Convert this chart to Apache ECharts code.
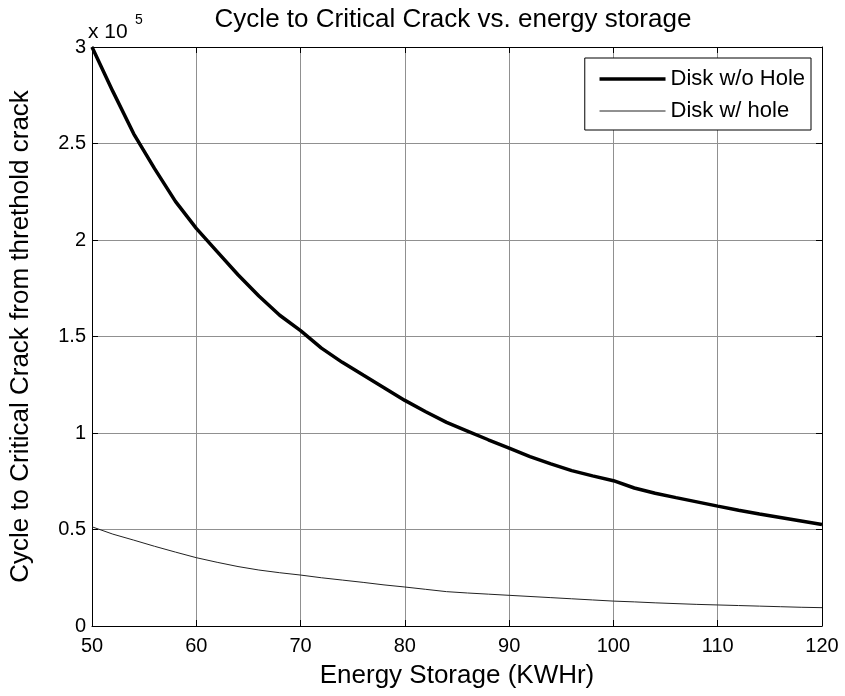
<!DOCTYPE html>
<html>
<head>
<meta charset="utf-8">
<script src="https://cdn.jsdelivr.net/npm/echarts@6/dist/echarts.min.js"></script>
<style>html,body{margin:0;padding:0;background:#fff}#c{width:845px;height:696px}</style>
</head>
<body>
<div id="c"></div>
<script>
// Data (cycles to critical crack vs energy storage)
var energyStorage = [50,52,54,56,58,60,62,64,66,68,70,72,74,76,78,80,82,84,86,88,90,92,94,96,98,100,102,104,106,108,110,112,114,116,118,120];
var diskNoHole = [300000,277000,255000,237000,220000,206000,194000,182000,171000,161000,153000,144000,136600,130000,123500,116900,111000,105500,101000,96500,92200,87800,84000,80500,77800,75300,71500,68800,66500,64300,62100,60000,58000,56200,54400,52600];
var diskWithHole = [51400,47600,44500,41300,38300,35400,33000,30800,29000,27600,26400,25000,23800,22600,21300,20200,19000,17800,17100,16500,15900,15300,14700,14100,13500,12900,12500,12000,11600,11200,10900,10600,10300,10000,9700,9500];
var seriesNames = ['Disk w/o Hole', 'Disk w/ hole'];
var xTicks = {min: 50, max: 120, interval: 10};
var yTicks = {min: 0, max: 300000, interval: 50000};
var titleText = 'Cycle to Critical Crack vs. energy storage';
var xLabel = 'Energy Storage (KWHr)';
var yLabel = 'Cycle to Critical Crack from threthold crack';

function pairs(xs, ys){ return xs.map(function(x,i){ return [x, ys[i]]; }); }

var FONT = 'Liberation Sans, Arial, sans-serif';
var lineWidths = [3.5, 1];
var lineColors = ['#000', '#222'];
var chart = echarts.init(document.getElementById('c'), null, {renderer: 'canvas'});
var axisCommon = {
  axisLine: {show: true, onZero: false, lineStyle: {color: '#000', width: 1}},
  axisTick: {show: true, inside: true, length: 6, lineStyle: {color: '#000'}},
  minorTick: {show: false}
};
chart.setOption({
  animation: false,
  backgroundColor: '#fff',
  grid: {left: 87, right: 23, top: 47, bottom: 70, containLabel: false},
  graphic: [
    {type: 'text', x: 453, y: 20, style: {text: titleText, font: '26px ' + FONT, fill: '#000', textAlign: 'center', textVerticalAlign: 'middle'}},
    {type: 'text', x: 88, y: 32, style: {text: 'x 10', font: '21px ' + FONT, fill: '#000', textAlign: 'left', textVerticalAlign: 'middle'}},
    {type: 'text', x: 135, y: 20, style: {text: '5', font: '14px ' + FONT, fill: '#000', textAlign: 'left', textVerticalAlign: 'middle'}}
  ],
  legend: {
    orient: 'vertical', right: 34, top: 58,
    itemWidth: 66, itemHeight: 22, itemGap: 10,
    padding: [10, 6, 8, 13],
    borderColor: '#000', borderWidth: 1, backgroundColor: '#fff',
    itemStyle: {opacity: 0},
    textStyle: {fontFamily: FONT, fontSize: 22, color: '#000'},
    data: seriesNames.map(function(n, i){
      return {name: n, lineStyle: {width: lineWidths[i], color: lineColors[i]}, itemStyle: {opacity: 0}};
    })
  },
  xAxis: [
    Object.assign({
      type: 'value', min: xTicks.min, max: xTicks.max, interval: xTicks.interval,
      position: 'bottom',
      name: xLabel, nameLocation: 'middle', nameGap: 37,
      nameTextStyle: {fontFamily: FONT, fontSize: 26, color: '#000'},
      axisLabel: {fontFamily: FONT, fontSize: 20, color: '#000', margin: 10},
      splitLine: {show: true, lineStyle: {color: '#909090', width: 1}}
    }, axisCommon),
    Object.assign({
      type: 'value', min: xTicks.min, max: xTicks.max, interval: xTicks.interval,
      position: 'top', axisLabel: {show: false}, splitLine: {show: false}
    }, axisCommon)
  ],
  yAxis: [
    Object.assign({
      type: 'value', min: yTicks.min, max: yTicks.max, interval: yTicks.interval,
      position: 'left',
      name: yLabel, nameLocation: 'middle', nameGap: 58,
      nameTextStyle: {fontFamily: FONT, fontSize: 26, color: '#000'},
      axisLabel: {fontFamily: FONT, fontSize: 20, color: '#000', margin: 6,
        formatter: function(v){ return String(Math.round(v / 10000) / 10); }},
      splitLine: {show: true, lineStyle: {color: '#909090', width: 1}}
    }, axisCommon),
    Object.assign({
      type: 'value', min: yTicks.min, max: yTicks.max, interval: yTicks.interval,
      position: 'right', axisLabel: {show: false}, splitLine: {show: false}
    }, axisCommon)
  ],
  series: [
    {name: seriesNames[0], type: 'line', data: pairs(energyStorage, diskNoHole), showSymbol: false, symbol: 'none',
     lineStyle: {color: lineColors[0], width: lineWidths[0]}, itemStyle: {color: lineColors[0]}, z: 3},
    {name: seriesNames[1], type: 'line', data: pairs(energyStorage, diskWithHole), showSymbol: false, symbol: 'none',
     lineStyle: {color: lineColors[1], width: lineWidths[1]}, itemStyle: {color: lineColors[1]}, z: 2}
  ]
});
</script>
</body>
</html>
